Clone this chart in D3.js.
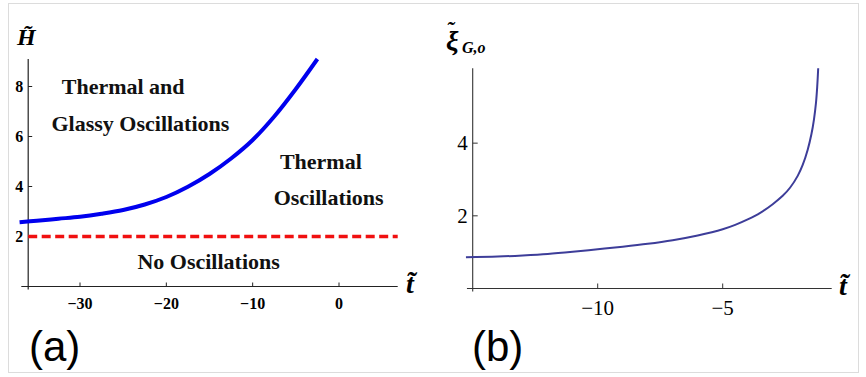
<!DOCTYPE html>
<html>
<head>
<meta charset="utf-8">
<script src="https://cdn.jsdelivr.net/npm/d3@7"></script>
<style>
  body { margin: 0; background: #fff; }
  svg { display: block; }
  .serif { font-family: "Liberation Serif", "Times New Roman", "DejaVu Serif", serif; }
  .sans { font-family: "Liberation Sans", Arial, sans-serif; }
</style>
</head>
<body>
<div id="chart"></div>
<script>
// panel (a): phase boundary H(t)
var boundaryT = [-37, -35, -32.5, -30, -27.5, -25, -22.5, -20, -17.5, -15, -12.5, -10, -7.5, -5, -2.5];
var boundaryH = [2.57, 2.63, 2.71, 2.79, 2.91, 3.06, 3.28, 3.58, 3.99, 4.5, 5.12, 5.86, 6.8, 7.9, 9.1];
var thresholdH = 2;
var aTicksX = [-30, -20, -10, 0];
var aTicksY = [2, 4, 6, 8];
var regionLabels = [
  {text: "Thermal and", t: -25.0, h: 7.7},
  {text: "Glassy Oscillations", t: -23.0, h: 6.22},
  {text: "Thermal", t: -2.1, h: 4.7},
  {text: "Oscillations", t: -1.2, h: 3.26},
  {text: "No Oscillations", t: -15.1, h: 0.7}
];

// panel (b): xi_G,o(t)
var xiT = [-15.27, -14, -13, -12, -11, -10, -9, -8, -7, -6, -5, -4.5, -4, -3.5, -3, -2.6, -2.3, -2.0, -1.8, -1.6, -1.45, -1.35, -1.27, -1.22, -1.18];
var xiV = [0.86, 0.88, 0.91, 0.95, 1.01, 1.08, 1.15, 1.23, 1.33, 1.46, 1.63, 1.75, 1.9, 2.08, 2.32, 2.55, 2.78, 3.1, 3.4, 3.82, 4.25, 4.65, 5.1, 5.55, 6.06];
var bTicksX = [-10, -5];
var bTicksY = [2, 4];

var svg = d3.select("#chart").append("svg")
    .attr("width", 866)
    .attr("height", 377);

svg.append("rect")
    .attr("x", 8.5).attr("y", 3.5)
    .attr("width", 850).attr("height", 369)
    .attr("fill", "none")
    .attr("stroke", "#dcdcdc");

// ---------- panel (a) ----------
var xa = d3.scaleLinear().domain([-30, 0]).range([80, 339]);
var ya = d3.scaleLinear().domain([0, 9.1]).range([286.5, 59]);

var ga = svg.append("g");

// axes
ga.append("line")
    .attr("x1", xa(-36.8)).attr("x2", xa(6.8))
    .attr("y1", ya(0)).attr("y2", ya(0))
    .attr("stroke", "#222").attr("stroke-width", 1.2);
ga.append("line")
    .attr("x1", xa(-36)).attr("x2", xa(-36))
    .attr("y1", ya(0) + 3).attr("y2", ya(9.1))
    .attr("stroke", "#222").attr("stroke-width", 1.2);

ga.selectAll(".xt").data(aTicksX).enter().append("line")
    .attr("x1", d => xa(d)).attr("x2", d => xa(d))
    .attr("y1", ya(0)).attr("y2", ya(0) - 4)
    .attr("stroke", "#222");
ga.selectAll(".xl").data(aTicksX).enter().append("text")
    .attr("class", "serif")
    .attr("x", d => xa(d)).attr("y", 309)
    .attr("text-anchor", "middle")
    .attr("font-weight", "bold").attr("font-size", 16)
    .text(d => d < 0 ? "\u2212" + Math.abs(d) : d);

ga.selectAll(".yt").data(aTicksY).enter().append("line")
    .attr("x1", xa(-36)).attr("x2", xa(-36) + 4)
    .attr("y1", d => ya(d)).attr("y2", d => ya(d))
    .attr("stroke", "#222");
ga.selectAll(".yl").data(aTicksY).enter().append("text")
    .attr("class", "serif")
    .attr("x", xa(-36) - 5).attr("y", d => ya(d) + 5)
    .attr("text-anchor", "end")
    .attr("font-weight", "bold").attr("font-size", 16)
    .text(d => d);

// threshold line
ga.append("line")
    .attr("x1", xa(-36)).attr("x2", xa(6.8))
    .attr("y1", ya(thresholdH)).attr("y2", ya(thresholdH))
    .attr("stroke", "#f01010").attr("stroke-width", 3.3)
    .attr("stroke-dasharray", "9,4.5");

// boundary curve
var lineA = d3.line()
    .x((d, i) => xa(boundaryT[i]))
    .y(d => ya(d))
    .curve(d3.curveCatmullRom);
ga.append("path")
    .datum(boundaryH)
    .attr("d", lineA)
    .attr("fill", "none")
    .attr("stroke", "#0000ee")
    .attr("stroke-width", 4);

ga.selectAll(".region").data(regionLabels).enter().append("text")
    .attr("class", "serif")
    .attr("x", d => xa(d.t)).attr("y", d => ya(d.h))
    .attr("text-anchor", "middle")
    .attr("font-weight", "bold").attr("font-size", 22)
    .attr("fill", "#111")
    .text(d => d.text);

// axis labels (a)
ga.append("text").attr("class", "serif").attr("x", 17).attr("y", 45)
    .attr("font-weight", "bold").attr("font-style", "italic")
    .attr("font-size", 24).text("H\u0303");
ga.append("text").attr("class", "serif").attr("x", 406).attr("y", 293)
    .attr("font-weight", "bold").attr("font-style", "italic")
    .attr("font-size", 28).text("t\u0303");

// panel label
svg.append("text").attr("class", "sans").attr("x", 29).attr("y", 361)
    .attr("font-size", 42).text("(a)");

// ---------- panel (b) ----------
var xb = d3.scaleLinear().domain([-10, -5]).range([597.7, 722.7]);
var yb = d3.scaleLinear().domain([0, 6.06]).range([288.5, 68.3]);

var gb = svg.append("g");

gb.append("line")
    .attr("x1", xb(-15.23)).attr("x2", xb(-0.64))
    .attr("y1", yb(0)).attr("y2", yb(0))
    .attr("stroke", "#333").attr("stroke-width", 1.1);
gb.append("line")
    .attr("x1", xb(-15)).attr("x2", xb(-15))
    .attr("y1", yb(0) + 3).attr("y2", yb(6.06))
    .attr("stroke", "#333").attr("stroke-width", 1.1);

gb.selectAll(".xt").data(bTicksX).enter().append("line")
    .attr("x1", d => xb(d)).attr("x2", d => xb(d))
    .attr("y1", yb(0)).attr("y2", yb(0) - 5)
    .attr("stroke", "#333");
gb.selectAll(".xl").data(bTicksX).enter().append("text")
    .attr("class", "serif")
    .attr("x", d => xb(d)).attr("y", 315)
    .attr("text-anchor", "middle")
    .attr("font-size", 21)
    .text(d => "\u2212" + Math.abs(d));

gb.selectAll(".yt").data(bTicksY).enter().append("line")
    .attr("x1", xb(-15)).attr("x2", xb(-15) + 5)
    .attr("y1", d => yb(d)).attr("y2", d => yb(d))
    .attr("stroke", "#333");
gb.selectAll(".yl").data(bTicksY).enter().append("text")
    .attr("class", "serif")
    .attr("x", xb(-15) - 5).attr("y", d => yb(d) + 7)
    .attr("text-anchor", "end")
    .attr("font-size", 21)
    .text(d => d);

var lineB = d3.line()
    .x((d, i) => xb(xiT[i]))
    .y(d => yb(d))
    .curve(d3.curveCatmullRom);
gb.append("path")
    .datum(xiV)
    .attr("d", lineB)
    .attr("fill", "none")
    .attr("stroke", "#3d3d99")
    .attr("stroke-width", 2);

// axis labels (b): xi with tilde above, subscript G,o
var yLabB = gb.append("text").attr("class", "serif").attr("x", 446).attr("y", 50)
    .attr("font-weight", "bold").attr("font-style", "italic");
yLabB.append("tspan").attr("font-size", 28).text("\u03BE");
yLabB.append("tspan").attr("font-size", 22).attr("dx", -12).attr("dy", -14).text("\u02DC");
yLabB.append("tspan").attr("font-size", 16).attr("dx", 8).attr("dy", 17).text("G,o");

gb.append("text").attr("class", "serif").attr("x", 839).attr("y", 295)
    .attr("font-weight", "bold").attr("font-style", "italic")
    .attr("font-size", 28).text("t\u0303");

svg.append("text").attr("class", "sans").attr("x", 472).attr("y", 361)
    .attr("font-size", 42).text("(b)");
</script>
</body>
</html>
